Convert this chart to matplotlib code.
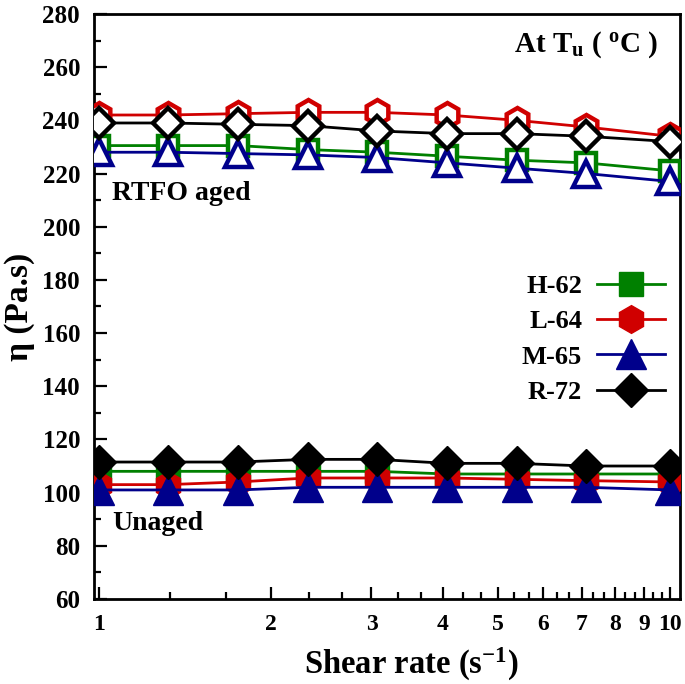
import numpy as np
import matplotlib
matplotlib.use("Agg")
import matplotlib.pyplot as plt
from matplotlib.ticker import FixedLocator, NullFormatter

plt.rcParams['font.family'] = ['Liberation Serif', 'DejaVu Serif']
plt.rcParams['font.weight'] = 'bold'
plt.rcParams['mathtext.fontset'] = 'custom'
plt.rcParams['mathtext.rm'] = 'Liberation Serif:bold'
plt.rcParams['mathtext.it'] = 'Liberation Serif:bold'
plt.rcParams['mathtext.bf'] = 'Liberation Serif:bold'

# shear rates (s^-1)
shear = [1.0, 1.32, 1.75, 2.32, 3.07, 4.07, 5.39, 7.13, 10.0]

names = ["H-62", "L-64", "M-65", "R-72"]
colors = ["#008000", "#d00000", "#00008b", "#000000"]
markers = ["s", "h", "^", "D"]
msizes = [17, 20, 21, 17]

# RTFO aged viscosity (Pa.s)
aged_h62 = [230.5, 230.5, 230.5, 229, 228, 226.5, 225, 224, 221]
aged_l64 = [242, 242, 242.5, 243, 243, 242, 240, 237.5, 234]
aged_m65 = [228, 228, 227.5, 227, 226, 224, 222, 220, 217]
aged_r72 = [239, 239, 238.5, 238, 236, 235, 235, 234, 232]

# unaged viscosity (Pa.s)
unaged_h62 = [108, 108, 108, 108, 108, 107, 107, 107, 107]
unaged_l64 = [103, 103, 104, 105.5, 105.5, 105.5, 105, 104.5, 104]
unaged_m65 = [101, 101, 101, 102, 102, 102, 102, 102, 101]
unaged_r72 = [111.5, 111.5, 111.5, 112.5, 112.5, 111, 111, 110, 110]

aged = [aged_h62, aged_l64, aged_m65, aged_r72]
unaged = [unaged_h62, unaged_l64, unaged_m65, unaged_r72]

fig = plt.figure(figsize=(6.85, 6.84), dpi=100)
ax = fig.add_axes([0.1372, 0.1243, 0.8555, 0.8553])

handles = []
for i in range(4):
    ax.plot(shear, aged[i], color=colors[i], lw=2, marker=markers[i],
            ms=msizes[i] - 2, mfc="white", mec=colors[i], mew=3.2, zorder=3)
    h, = ax.plot(shear, unaged[i], color=colors[i], lw=2, marker=markers[i],
                 ms=msizes[i], mfc=colors[i], mec=colors[i], mew=1, zorder=3,
                 label=names[i])
    handles.append(h)

ax.set_xscale("log")
ax.set_xlim(0.98, 10.41)
ax.set_ylim(60, 280)

ax.xaxis.set_major_locator(FixedLocator([1, 2, 3, 4, 5, 6, 7, 8, 9, 10]))
ax.set_xticklabels(["1", "2", "3", "4", "5", "6", "7", "8", "9", "10"])
minor_x = [n + f for n in range(1, 10) for f in (1 / 3, 2 / 3)]
ax.xaxis.set_minor_locator(FixedLocator(minor_x))
ax.xaxis.set_minor_formatter(NullFormatter())
ax.set_yticks(np.arange(60, 281, 20))
ax.set_yticks(np.arange(70, 280, 20), minor=True)

ax.tick_params(which="both", direction="in", width=1.6)
ax.tick_params(axis="y", labelsize=18, pad=10)
ax.tick_params(axis="x", labelsize=17, pad=11)
ax.tick_params(which="major", length=9)
ax.tick_params(which="minor", length=5)
for sp in ax.spines.values():
    sp.set_linewidth(2)
for lab in ax.get_xticklabels() + ax.get_yticklabels():
    lab.set_fontweight("bold")

ax.set_xlabel("Shear rate (s$^{-1}$)", fontsize=23.5, fontweight="bold")
ax.xaxis.set_label_coords(0.542, -0.080)
ax.set_ylabel("η (Pa.s)", fontsize=24, fontweight="bold")
ax.yaxis.set_label_coords(-0.101, 0.5)

ax.text(0.962, 0.947, "At T$_\\mathregular{u}$ ( $^\\mathregular{o}$C )", transform=ax.transAxes,
        ha="right", va="center", fontsize=21, fontweight="bold")
ax.text(1.054, 212.5, "RTFO aged", fontsize=20, fontweight="bold", va="center")
ax.text(1.054, 88.5, "Unaged", fontsize=20, fontweight="bold", va="center")

ax.legend(handles=handles, loc="center right", bbox_to_anchor=(0.993, 0.444),
          borderaxespad=0, frameon=False, markerfirst=False, handlelength=2.6,
          labelspacing=0.45, handletextpad=0.55,
          prop={"weight": "bold", "size": 19})

fig.savefig("out.png", dpi=100)
